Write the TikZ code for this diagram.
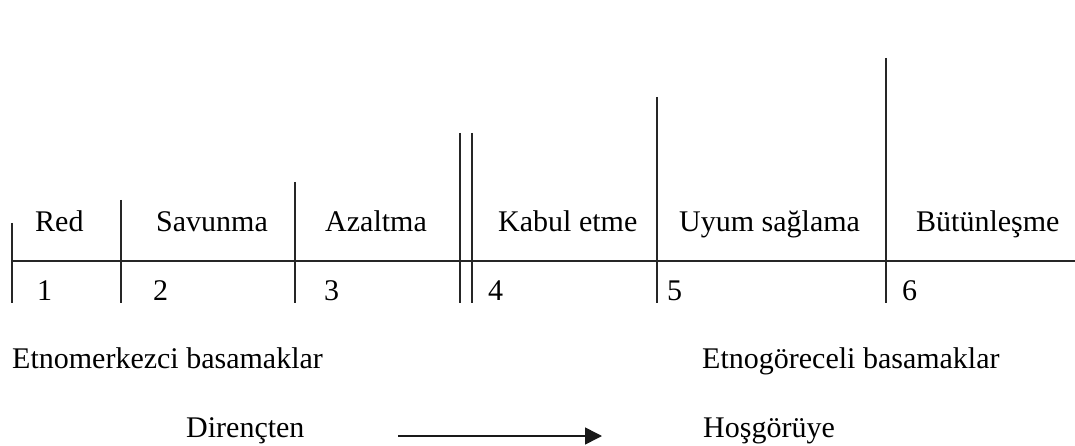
\documentclass[tikz,border=0pt]{standalone}
\usepackage{fontspec}
\setmainfont{Liberation Serif}
\usetikzlibrary{arrows.meta}
\tikzset{
  rule/.style={line width=1.5pt, black!85},
  lbl/.style={anchor=base west, inner sep=0pt, font=\fontsize{30}{36}\selectfont},
  flow/.style={line width=1.5pt, black!90, -{Triangle[length=17pt,width=17pt]}}
}
\begin{document}
\begin{tikzpicture}[x=1pt,y=-1pt]
\useasboundingbox (0,0) rectangle (1075,446);

% stage labels above the rule
\node[lbl] (red) at (35,232) {Red};
\node[lbl] (sav) at (156,232) {Savunma};
\node[lbl] (aza) at (325,232) {Azaltma};
\node[lbl] (kab) at (498,232) {Kabul etme};
\node[lbl] (uyu) at (679,232) {Uyum sağlama};
\node[lbl] (but) at (916,232) {Bütünleşme};

% stage numbers below the rule
\node[lbl] (n1) at (37,300) {1};
\node[lbl] (n2) at (153,300) {2};
\node[lbl] (n3) at (324,300) {3};
\node[lbl] (n4) at (488,300) {4};
\node[lbl] (n5) at (667,300) {5};
\node[lbl] (n6) at (902,300) {6};

% group captions
\node[lbl] (etm) at (12,368) {Etnomerkezci basamaklar};
\node[lbl] (etg) at (702,368) {Etnogöreceli basamaklar};
\node[lbl] (dir) at (186,437) {Dirençten};
\node[lbl] (hos) at (703,437) {Hoşgörüye};

% rule and separators (taller separators for later stages)
\coordinate (hl) at (12,261);
\coordinate (hr) at (1075,261);
\draw[rule] (hl) -- (hr);

\foreach \name/\x/\top in {s1/12/223, s2/121/200, s3/295/182, s4/460/133, s5/472/133, s6/657/97, s7/886/58}{
  \coordinate (\name t) at (\x,\top);
  \coordinate (\name b) at (\x,303);
  \draw[rule] (\name t) -- (\name b);
}

% direction arrow
\coordinate (af) at (398,436);
\coordinate (at) at (602,436);
\draw[flow] (af) -- (at);
\end{tikzpicture}
\end{document}
